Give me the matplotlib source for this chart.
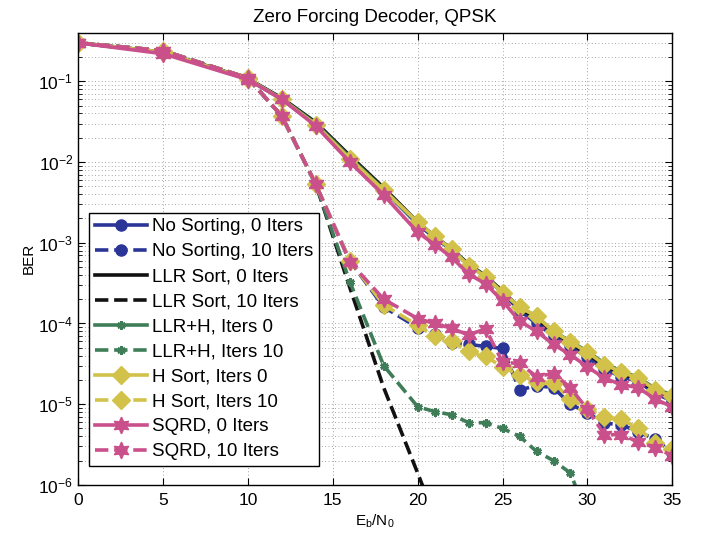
import numpy as np
import matplotlib
matplotlib.use('Agg')
import matplotlib.pyplot as plt
from matplotlib.ticker import LogLocator, FixedLocator

plt.rcParams['font.family'] = ['Liberation Sans', 'DejaVu Sans']
plt.rcParams['mathtext.fontset'] = 'custom'
plt.rcParams['mathtext.rm'] = 'Liberation Sans'
plt.rcParams['mathtext.it'] = 'Liberation Sans'

# Eb/N0 points (dB)
ebn0 = [0, 5, 10, 12, 14, 16, 18, 20, 21, 22, 23, 24, 25, 26, 27, 28, 29, 30, 31, 32, 33, 34, 35]

# 0 iteration curves
nosort_0 = [0.3, 0.23, 0.107, 0.06, 0.029, 0.011, 4.5e-3, 1.7e-3, 1.15e-3, 8.2e-4, 5.3e-4, 3.8e-4, 2.4e-4,
            1.45e-4, 1.0e-4, 7.0e-5, 5.2e-5, 3.8e-5, 2.7e-5, 2.2e-5, 1.9e-5, 1.35e-5, 1.1e-5]
llr_0 = [0.3, 0.23, 0.108, 0.062, 0.031, 0.012, 4.8e-3, 1.8e-3, 1.2e-3, 8.4e-4, 5.4e-4, 3.9e-4, 2.5e-4,
         1.55e-4, 1.15e-4, 7.8e-5, 5.7e-5, 4.2e-5, 3.0e-5, 2.4e-5, 2.0e-5, 1.45e-5, 1.2e-5]
llrh_0 = [0.3, 0.23, 0.107, 0.061, 0.03, 0.0115, 4.6e-3, 1.75e-3, 1.2e-3, 8.3e-4, 5.3e-4, 3.85e-4, 2.45e-4,
          1.6e-4, 1.22e-4, 8.0e-5, 6.0e-5, 4.5e-5, 3.2e-5, 2.55e-5, 2.15e-5, 1.55e-5, 1.3e-5]
hsort_0 = [0.3, 0.23, 0.107, 0.06, 0.029, 0.011, 4.5e-3, 1.8e-3, 1.2e-3, 8.3e-4, 5.2e-4, 3.8e-4, 2.4e-4,
           1.6e-4, 1.23e-4, 8.0e-5, 5.9e-5, 4.4e-5, 3.1e-5, 2.5e-5, 2.1e-5, 1.5e-5, 1.25e-5]
sqrd_0 = [0.3, 0.22, 0.105, 0.06, 0.028, 0.01, 3.9e-3, 1.35e-3, 9.5e-4, 6.6e-4, 4.1e-4, 3.1e-4, 1.9e-4,
          1.07e-4, 8.0e-5, 5.5e-5, 4.1e-5, 2.9e-5, 2.1e-5, 1.75e-5, 1.6e-5, 1.15e-5, 9.3e-6]

# 10 iteration curves
nosort_10 = [0.3, 0.24, 0.11, 0.037, 5.3e-3, 6.0e-4, 1.6e-4, 8.9e-5, 7.5e-5, 5.7e-5, 5.5e-5, 5.2e-5, 4.9e-5,
             1.5e-5, 1.7e-5, 1.6e-5, 1.0e-5, 7.8e-6, 5.8e-6, 5.6e-6, 4.5e-6, 3.7e-6, 2.5e-6]
llr_10 = [0.3, 0.24, 0.11, 0.037, 5.3e-3, 2.8e-4, 1.6e-5, 1.4e-6, 4e-7, np.nan, np.nan, np.nan, np.nan,
          np.nan, np.nan, np.nan, np.nan, np.nan, np.nan, np.nan, np.nan, np.nan, np.nan]
llrh_10 = [0.3, 0.24, 0.11, 0.037, 5.3e-3, 3.3e-4, 3.0e-5, 9.3e-6, 8.1e-6, 7.4e-6, 5.9e-6, 5.9e-6, 5.0e-6,
           4.0e-6, 2.6e-6, 2.0e-6, 1.4e-6, 4e-7, np.nan, np.nan, np.nan, np.nan, np.nan]
hsort_10 = [0.3, 0.24, 0.11, 0.037, 5.3e-3, 6.0e-4, 1.7e-4, 9.5e-5, 6.9e-5, 6.0e-5, 4.5e-5, 3.9e-5, 2.9e-5,
            2.3e-5, 1.9e-5, 1.85e-5, 1.15e-5, 8.7e-6, 6.9e-6, 6.5e-6, 5.0e-6, 3.3e-6, 2.8e-6]
sqrd_10 = [0.3, 0.24, 0.11, 0.037, 5.3e-3, 5.8e-4, 2.0e-4, 1.15e-4, 1.0e-4, 8.7e-5, 7.2e-5, 8.6e-5, 3.3e-5,
           3.2e-5, 2.2e-5, 2.4e-5, 1.6e-5, 8.6e-6, 4.2e-6, 4.2e-6, 3.4e-6, 2.9e-6, 2.3e-6]

blue = '#2b3598'
black = '#111111'
green = '#3f7d58'
yellow = '#d2c24a'
pink = '#c9508b'
star6 = (6, 1, 0)
ast6 = (6, 2, 0)

fig = plt.figure(figsize=(7.10, 5.37), dpi=100)
ax = fig.add_axes([0.110, 0.097, 0.837, 0.842])

lw = 2.6
ax.plot(ebn0, nosort_0, '-', color=blue, lw=lw, marker='o', ms=8, label='No Sorting, 0 Iters')
ax.plot(ebn0, nosort_10, '--', color=blue, lw=lw, marker='o', ms=8, label='No Sorting, 10 Iters')
ax.plot(ebn0, llr_0, '-', color=black, lw=lw, label='LLR Sort, 0 Iters')
ax.plot(ebn0, llr_10, '--', color=black, lw=lw, label='LLR Sort, 10 Iters')
ax.plot(ebn0, llrh_0, '-', color=green, lw=lw, marker=ast6, ms=6, mew=2, label='LLR+H, Iters 0')
ax.plot(ebn0, llrh_10, '--', color=green, lw=lw, marker=ast6, ms=6, mew=2, label='LLR+H, Iters 10')
ax.plot(ebn0, hsort_0, '-', color=yellow, lw=lw, marker='D', ms=9, label='H Sort, Iters 0')
ax.plot(ebn0, hsort_10, '--', color=yellow, lw=lw, marker='D', ms=9, label='H Sort, Iters 10')
ax.plot(ebn0, sqrd_0, '-', color=pink, lw=lw, marker=star6, ms=12, label='SQRD, 0 Iters')
ax.plot(ebn0, sqrd_10, '--', color=pink, lw=lw, marker=star6, ms=12, label='SQRD, 10 Iters')

ax.set_yscale('log')
ax.set_xlim(0, 35)
ax.set_ylim(1e-6, 0.4)
ax.set_xticks(range(0, 36, 5))
ax.yaxis.set_major_locator(FixedLocator([1e-6, 1e-5, 1e-4, 1e-3, 1e-2, 1e-1]))
ax.yaxis.set_minor_locator(LogLocator(base=10, subs=np.arange(2, 10), numticks=20))
ax.tick_params(which='both', direction='in', top=True, right=True, labelsize=12.5)
ax.tick_params(axis='x', pad=6)
ax.tick_params(which='major', length=5)
ax.tick_params(which='minor', length=3)
ax.grid(True, which='major', ls=(0, (1, 3)), color='#888888', lw=0.6)
ax.grid(True, which='minor', axis='y', ls=(0, (1, 3)), color='#888888', lw=0.6)
for s in ax.spines.values():
    s.set_linewidth(1.0)

ax.set_title('Zero Forcing Decoder, QPSK', fontsize=13.5, pad=8)
ax.set_xlabel('E$_b$/N$_0$', fontsize=11, labelpad=3)
ax.set_ylabel('BER', fontsize=11, labelpad=2)

leg = ax.legend(loc='upper left', bbox_to_anchor=(0.0185, 0.602), borderaxespad=0,
                fontsize=13.5, handlelength=2.8, labelspacing=0.42, handletextpad=0.25,
                borderpad=0.3, fancybox=False, framealpha=1)
leg.get_frame().set_edgecolor('black')
leg.get_frame().set_linewidth(1.0)

fig.savefig('out.png', dpi=100)
